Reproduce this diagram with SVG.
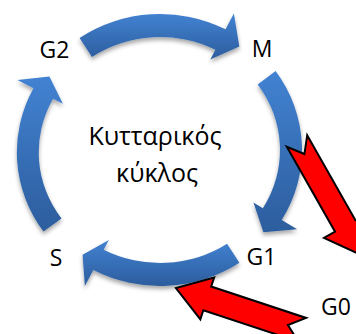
<svg xmlns="http://www.w3.org/2000/svg" width="356" height="334" viewBox="0 0 356 334">
  <defs>
    <linearGradient id="blueFill" x1="0" y1="0" x2="0" y2="1">
      <stop offset="0" stop-color="#4282d2"/>
      <stop offset="1" stop-color="#2c5d9d"/>
    </linearGradient>
    <filter id="softShadow" x="-20%" y="-20%" width="140%" height="150%">
      <feDropShadow dx="0" dy="3" stdDeviation="2" flood-color="#000" flood-opacity="0.35"/>
    </filter>
    <style>
      .label { font-family: "Open Sans", "Noto Sans", "DejaVu Sans", sans-serif; font-size: 23px; fill: #000; text-anchor: middle; }
      .title { font-family: "Open Sans", "Noto Sans", "DejaVu Sans", sans-serif; font-size: 25px; fill: #000; text-anchor: middle; }
      .cycle { fill: url(#blueFill); filter: url(#softShadow); }
      .entry { fill: #ff0000; stroke: #000; stroke-width: 2; stroke-linejoin: miter; }
    </style>
  </defs>

  <rect width="356" height="334" fill="#fff"/>

  <!-- curved cycle arrows -->
  <g id="connectors">
    <path id="arrow-g2-m" class="cycle" d="M79.57,37.92 A142,136 0 0 1 225.56,29.37 L233.87,13.40 L239.35,46.45 L210.33,59.53 L215.40,49.77 A120,113 0 0 0 92.03,56.88 Z"/>
    <path id="arrow-m-g1" class="cycle" d="M275.60,71.02 A142,136 0 0 1 281.72,220.04 L297.15,229.31 L263.41,232.28 L253.43,202.53 L262.86,208.20 A120,113 0 0 0 257.69,84.38 Z"/>
    <path id="arrow-g1-s" class="cycle" d="M239.41,262.74 A142,136 0 0 1 93.33,270.07 L84.88,285.97 L82.56,254.86 L108.82,240.06 L103.66,249.77 A120,113 0 0 0 227.10,243.68 Z"/>
    <path id="arrow-s-g2" class="cycle" d="M43.5,231.5 A142,136 0 0 1 33.48,88.26 L17.44,80.08 L49.41,76.58 L62.88,103.69 L53.08,98.70 A120,113 0 0 0 61.5,218.5 Z"/>

    <!-- notched block arrows into and out of G0 -->
    <polygon id="arrow-to-g0" class="entry" transform="translate(297,141) rotate(60.4)" points="0,-11.7 97.6,-11.7 97.6,-24.4 131.6,0 97.6,24.4 97.6,11.7 0,11.7 15,0"/>
    <polygon id="arrow-from-g0" class="entry" transform="translate(302.2,329.8) rotate(198.3)" points="0,-12.5 100,-12.5 100,-22 133,0 100,22 100,12.5 0,12.5 15,0"/>
  </g>

  <g id="node-center">
    <text class="title" x="155" y="145">Κυτταρικός</text>
    <text class="title" x="157" y="182">κύκλος</text>
  </g>
  <g id="node-g2"><text class="label" x="54.5" y="58">G2</text></g>
  <g id="node-m"><text class="label" x="262" y="57">M</text></g>
  <g id="node-g1"><text class="label" x="261.5" y="265">G1</text></g>
  <g id="node-s"><text class="label" x="56" y="266">S</text></g>
  <g id="node-g0"><text class="label" x="336" y="315">G0</text></g>
</svg>
